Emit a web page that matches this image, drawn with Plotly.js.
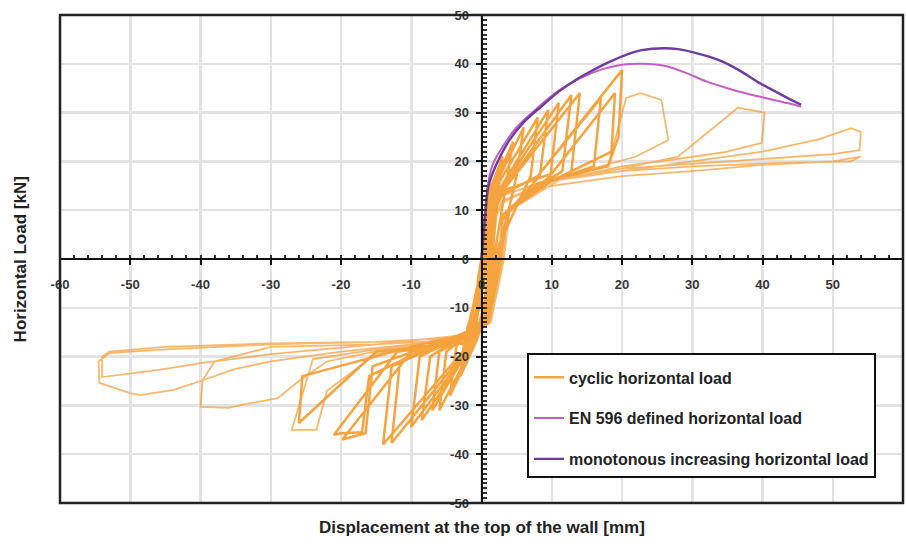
<!DOCTYPE html>
<html>
<head>
<meta charset="utf-8">
<script src="https://cdn.plot.ly/plotly-3.0.1.min.js"></script>
<style>html,body{margin:0;padding:0;background:#fff;}#chart{width:906px;height:546px;}</style>
</head>
<body>
<div id="chart"></div>
<script>
// ---- data ----
const xTicks = [-60,-50,-40,-30,-20,-10,0,10,20,30,40,50,60];
const yTicks = [-50,-40,-30,-20,-10,0,10,20,30,40,50];

// monotonous increasing horizontal load
const monoX = [0,0.3,0.6,1,2,4,6,8.7,11,13.5,16,18.2,20.5,22.8,26,28,30,32.5,34.7,37,39.4,42,44.1,45.5];
const monoY = [0,5,10,15,19,24.4,28,31.5,34.3,36.8,38.8,40.4,41.8,42.8,43.2,43,42.4,41.4,40.2,38.4,36.2,34.2,32.6,31.6];

// EN 596 defined horizontal load
const enX = [0,0.4,0.8,1.5,3,5,8,11,14,17,20,23,26,29,32,35,38,41,44,45.5];
const enY = [0,8,14,19,23,27,31,34.5,37,38.8,39.8,40,39.6,38.2,36.4,35,33.8,32.8,31.8,31.2];

// cyclic horizontal load – initial tiny cycles
const cycTinyX = [0,0.3,0.8,0.5,0.2,-0.3,-0.8,-0.5,0,
  0.4,1,1.5,1.1,0.6,0,-0.8,-1.5,-1.1,0.2,
  0.8,1.5,2.5,2,1.3,0.4,-0.8,-2.5,-2,-0.3,0.3];
const cycTinyY = [0,5,10,3,0,-6,-11,-4,0,
  6,12,15,8,0,-8,-13,-16,-9,0,
  9,14,19,12,0,-10,-15,-20,-14,-6,0];

// cyclic horizontal load – small cycles
const cycSmallX = [0.3,0.4,1,2,1.6,1.2,0.3,-0.5,-2,-1.6,-0.2,0.2,
  0.6,1.2,3,2.4,1.5,0.5,-0.5,-3,-2.4,-0.5,0.3,
  0.9,1.4,4.5,3.6,1.8,0.6,-0.5,-4.5,-3.6,-0.6,0.4,
  1,1.6,6,5,2.2,0.8,-0.6,-6,-5,-0.8,0.4,
  1.1,1.8,8,7,2.5,2,0.8,-0.8,-7,-6,-1,0.5,
  1.2,2,9.5,8.3,4,2.4,0.8,-1,-8.5,-7.3,-3,-0.8,0.5,
  1.3,2.2,11,9.8,4,2.5,0.8,-1,-10,-8.8,-3,-0.8,0.6,
  1.4,2.4,12.8,11.5,6,3,2.5,0.8,-1.2,-12.8,-11.6,-5,-1,0.6,
  1.4,2.5,14,12.8,6,3,2.6,0.8,-1.5,-14,-12.8,-5,-1,0.7,
  1.5,2.7,8,17,16,8,3,2.7,0.9,-2,-10,-19.8,-16.5,-15.5,-6,-1,0.7,
  1.5,2.8,8,20,19.5,18,8,3,2.8,1,-2,-12,-21,-20,-17,-16,-6,-1,0.8,
  1.6,3,10,19,18.5,10,3,2.8,1,-2,-15,-26,-25.5,-10,-1,0.8];
const cycSmallY = [0,8,14,17,12,0,-10,-15,-18,-12,-4,0,
  8,14,21,14,0,-10,-16,-24,-16,-10,0,
  9,14,24,16,0,-10,-16,-28,-18,-12,0,
  9,14,27,17,0,-10,-16,-31,-19,-14,0,
  9,14,29,17,3,0,-11,-16,-31,-19,-15,0,
  9,13,30.5,17,10,0,-12,-17,-33,-20,-16,-13,0,
  9,13,32,17,10,0,-12,-17,-34.4,-20,-16,-13,0,
  9,13,33.6,18,13,8,0,-12,-17,-37.7,-21,-17,-14,0,
  9,13,34,18,13,8,0,-13,-17,-38,-22,-17,-14,0,
  9,13,17,33,19,15,9,0,-13,-17,-19,-37,-35.7,-22,-17,-14.5,0,
  9,13,17,38.7,25,19,15.5,9,0,-13,-17,-19,-36,-35.7,-35.5,-24,-17,-15,0,
  9,14,17.5,34,22,16,9,0,-13,-17,-19,-33.6,-24,-18,-15,0];

// cyclic horizontal load – large cycles
const cycLargeX = [0.8,1.6,3,10,18,20.6,22.6,25.6,26.6,22,12,3.5,2.9,1,-2,-15,-24,-27,-23.5,-22,-15,-5,-1,0.9,
  1.7,3,10,20,28,33,36.5,40.3,39.9,35,29.9,20,10,4,3,1.2,-2,-15,-30,-38,-39.7,-40,-36,-33.8,-29,-26,-22,-12,-2,-0.8,1,
  1.8,3,10,20,30,40,48,52.6,54,53.8,50,40,30,20,10,4,3.1,1.3,-2,-15,-30,-45,-53,-54.5,-54.4,-50,-48.6,-43.8,-40,-35,-30,-20,-10,-2,-0.8,1,
  1.8,3,5,10,20,30,40,50,54,52.6,45,30,20,10,4,3.2,1.3,-2,-15,-30,-45,-53,-54,-54,-45.9,-39.7,-30,-15,-2,-0.5,0.5];
const cycLargeY = [0,9,13,16.5,19,33,34,32.6,24.4,21,17,9.5,0,-13,-17,-18.5,-20.5,-35,-35,-27,-19.5,-17,-15,0,
  8,12,16,18.5,21,27,31,30,23.8,22,20.9,19,16,10,0,-13,-16.5,-17.5,-18,-21,-24.8,-30.3,-30.5,-29.8,-28.5,-25,-21,-18,-16,-13,0,
  8,12,16,18,20,22,24.5,26.8,26,22.3,21.5,20.5,19.5,18.5,16,10.5,0,-13,-16,-17,-17.5,-18.5,-19.3,-21,-25.4,-27.5,-27.9,-26.8,-25,-22.5,-21,-19,-17.5,-15.5,-12,0,
  8,11.5,13,15,17,18,19.3,20,21,20,19.8,19,18,16,10.5,0,-13,-16,-17,-17.3,-18,-19,-20,-24.2,-22.7,-21.3,-19.5,-17.5,-15.5,-10,0];

const legendNames = ["cyclic horizontal load","EN 596 defined horizontal load","monotonous increasing horizontal load"];
const xTitle = "Displacement at the top of the wall [mm]";
const yTitle = "Horizontal Load [kN]";

// ---- chart ----
const orange = "rgba(243,148,30,0.85)";
const orangeLight = "rgba(244,160,60,0.75)";
const traces = [
  {x: cycTinyX.concat(cycSmallX), y: cycTinyY.concat(cycSmallY), mode: "lines", name: legendNames[0], legendgroup: "a",
   line: {color: orange, width: 2.5}},
  {x: cycLargeX, y: cycLargeY, mode: "lines", name: legendNames[0], legendgroup: "a", showlegend: false,
   line: {color: orangeLight, width: 1.8}},
  {x: enX, y: enY, mode: "lines", name: legendNames[1], legendgroup: "b",
   line: {color: "#C25FC2", width: 2, shape: "spline"}},
  {x: monoX, y: monoY, mode: "lines", name: legendNames[2], legendgroup: "c",
   line: {color: "#6E3C9C", width: 2.4, shape: "spline"}}
];

const fam = "Liberation Sans, Arial, sans-serif";
const tickFont = {family: fam, size: 13, color: "#333", weight: "bold"};
const layout = {
  width: 906, height: 546,
  margin: {l: 60, r: 3, t: 15, b: 43},
  paper_bgcolor: "#fff", plot_bgcolor: "#fff",
  showlegend: true,
  xaxis: {range: [-60, 60], tickvals: xTicks, ticktext: xTicks.map(String),
    anchor: "free", position: 0.5, showline: true, linecolor: "#111", linewidth: 2,
    ticks: "outside", ticklen: 5, tickwidth: 2, tickcolor: "#111", ticklabelstandoff: 8,
    minor: {dtick: 2, ticks: "inside", ticklen: 3, tickcolor: "#333", showgrid: false},
    showgrid: true, gridcolor: "#e3e3e3", gridwidth: 2.5, zeroline: false,
    tickfont: tickFont, fixedrange: true},
  yaxis: {range: [-50, 50], tickvals: yTicks, ticktext: yTicks.map(String),
    anchor: "free", position: 0.5, showline: true, linecolor: "#111", linewidth: 2,
    ticks: "outside", ticklen: 5, tickwidth: 2, tickcolor: "#111", ticklabelstandoff: 4,
    minor: {dtick: 1, ticks: "inside", ticklen: 4, tickcolor: "#333", showgrid: false},
    showgrid: true, gridcolor: "#e3e3e3", gridwidth: 2.5, zeroline: false,
    tickfont: tickFont, fixedrange: true},
  legend: {x: 0.554, y: 0.307, xanchor: "left", yanchor: "top",
    bgcolor: "#fff", bordercolor: "#111", borderwidth: 2,
    title: {text: " ", font: {size: 4}},
    font: {family: fam, size: 16, color: "#222", weight: "bold"},
    traceorder: "grouped", tracegroupgap: 17},
  shapes: [{type: "rect", xref: "paper", yref: "paper", x0: 0, x1: 1, y0: 0, y1: 1,
    line: {color: "#222", width: 2.5}, layer: "above"}],
  annotations: [
    {text: "<b>" + xTitle + "</b>", xref: "paper", yref: "paper", x: 0.5, y: -0.051,
     xanchor: "center", yanchor: "middle", showarrow: false,
     font: {family: fam, size: 17, color: "#222"}},
    {text: "<b>" + yTitle + "</b>", xref: "paper", yref: "paper", x: -0.047, y: 0.5,
     xanchor: "center", yanchor: "middle", showarrow: false, textangle: -90,
     font: {family: fam, size: 17, color: "#222"}}
  ]
};
Plotly.newPlot("chart", traces, layout, {displayModeBar: false, staticPlot: true});
</script>
</body>
</html>
